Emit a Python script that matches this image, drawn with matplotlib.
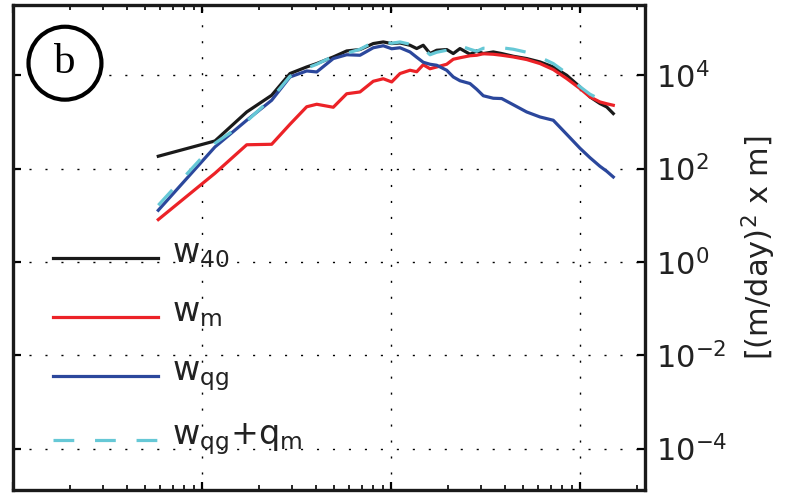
import numpy as np
import matplotlib
matplotlib.use("Agg")
import matplotlib.pyplot as plt
import matplotlib.transforms as mtransforms
from matplotlib.ticker import LogLocator, FixedLocator, NullFormatter, NullLocator

plt.rcParams['mathtext.default'] = 'regular'
plt.rcParams['font.family'] = ['DejaVu Sans']

# wavenumber axis shared by all spectra
k = np.array([0.00585, 0.01167, 0.01718, 0.02329, 0.02911, 0.03568, 0.04031, 0.04933, 0.05808, 0.0683,
              0.0803, 0.0907, 0.1005, 0.1112, 0.1256, 0.1363, 0.1476, 0.1603, 0.1739, 0.1964,
              0.2128, 0.2309, 0.2609, 0.2830, 0.3068, 0.3465, 0.3838, 0.4421, 0.5204, 0.6119,
              0.7195, 0.8472, 0.9963, 1.126, 1.271, 1.380, 1.495])

w40 = np.array([184, 391, 1635, 3728, 1.088e4, 1.506e4, 1.781e4, 2.467e4, 3.317e4, 3.553e4,
                4.777e4, 5.170e4, 4.777e4, 4.921e4, 4.393e4, 3.734e4, 4.393e4, 2.917e4, 3.433e4, 3.553e4,
                2.917e4, 3.734e4, 2.818e4, 3.317e4, 2.917e4, 3.157e4, 2.917e4, 2.553e4, 2.279e4, 1.928e4,
                1.506e4, 1.0e4, 5615, 3428, 2475, 2094, 1511])

wm = np.array([8.09, 79.5, 324, 332, 892, 2113, 2391, 2062, 4015, 4387,
               7438, 8414, 7186, 1.088e4, 1.280e4, 1.189e4, 1.679e4, 1.378e4, 1.506e4, 1.720e4,
               2.202e4, 2.371e4, 2.617e4, 2.683e4, 2.888e4, 2.818e4, 2.683e4, 2.467e4, 2.170e4, 1.781e4,
               1.325e4, 8495, 5188, 3428, 2679, 2451, 2276])

wqg = np.array([12.8, 291, 1086, 2913, 9196, 1.236e4, 1.177e4, 2.279e4, 2.750e4, 2.683e4,
                3.884e4, 4.286e4, 3.697e4, 3.884e4, 3.157e4, 2.430e4, 1.899e4, 1.720e4, 1.638e4, 1.280e4,
                9196, 7626, 6641, 5012, 3637, 3216, 3168, 2333, 1635, 1278,
                1086, 544, 273, 171, 112, 87.7, 66.2])

wqg_qm = np.array([16.4, 349, 1033, 3216, 9519, 1.413e4, 1.720e4, 2.553e4, 2.960e4, 3.607e4,
                   5.094e4, 5.094e4, 4.849e4, 5.170e4, 4.615e4, 4.181e4, 3.734e4, 2.750e4, 3.110e4, 3.433e4,
                   3.268e4, 4.286e4, 3.607e4, 3.268e4, 3.789e4, 3.734e4, 3.884e4, 3.607e4, 3.110e4, 2.430e4,
                   1.781e4, 1.104e4, 5671, 3917, 3060, 2679, 2679])

labels = ['$w_{40}$', '$w_{m}$', '$w_{qg}$', '$w_{qg}$+$q_{m}$']

fig = plt.figure(figsize=(7.88, 4.93), dpi=100)
ax = fig.add_axes([13.3/788, 1 - 490/493, (645 - 13.3)/788, 485/493])

lw = 2.3
ax.loglog(k, w40, color='#1a1a1a', lw=lw, label=labels[0])
ax.loglog(k, wm, color='#ec2227', lw=lw, label=labels[1])
ax.loglog(k, wqg, color='#2b479c', lw=lw, label=labels[2])
ax.loglog(k, wqg_qm, color='#66c8d6', lw=lw, linestyle=(0, (6.5, 6.5)), label=labels[3])

ax.set_xlim(1e-3, 2.2)
ax.set_ylim(1.3e-5, 3.2e5)

ax.xaxis.set_major_locator(LogLocator(base=10, numticks=10))
ax.xaxis.set_minor_locator(LogLocator(base=10, subs=np.arange(2, 10), numticks=10))
ax.xaxis.set_major_formatter(NullFormatter())
ax.xaxis.set_minor_formatter(NullFormatter())
ax.yaxis.set_major_locator(FixedLocator(10.0 ** np.arange(-4, 5, 2)))
ax.yaxis.set_minor_locator(NullLocator())

ax.tick_params(which='both', direction='in', top=True, bottom=True, left=True, right=True,
               labelleft=False, labelright=True, labelbottom=False)
ax.tick_params(which='major', length=6, width=1.6, labelsize=22, pad=8, labelcolor='#222222')
ax.tick_params(which='minor', length=3.5, width=1.2)

ax.grid(True, which='major', color='k', linestyle=(0, (1.5, 10)), linewidth=1.0)
for s in ax.spines.values():
    s.set_linewidth(2.4)
    s.set_color('#1a1a1a')

ax.yaxis.set_label_position('right')
ax.set_ylabel('[(m/day)$^2$ x m]', fontsize=22, color='#222222')
ax.yaxis.set_label_coords(1.15, 0.5)

leg = ax.legend(loc='upper left', bbox_to_anchor=(0.0628, 0.508), frameon=False,
                fontsize=24, handlelength=3.15, handletextpad=0.42, labelspacing=0.76,
                borderpad=0, borderaxespad=0)
# lift the labels so the handle sits near the baseline of the "w"
lift = mtransforms.ScaledTranslation(0, 0.07, fig.dpi_scale_trans)
for t in leg.get_texts():
    t.set_color('#222222')
    t.set_transform(t.get_transform() + lift)

# panel tag
ax.text(0.0818, 0.880, 'b', transform=ax.transAxes, ha='center', va='center',
        fontsize=31, family='Liberation Serif',
        bbox=dict(boxstyle='circle,pad=0.4', fc='white', ec='k', lw=3.0))

fig.savefig('out.png', dpi=100)
